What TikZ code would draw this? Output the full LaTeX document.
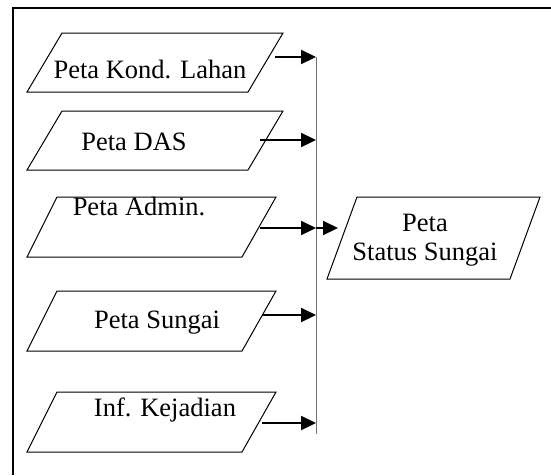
\documentclass[tikz,border=0pt]{standalone}
\usepackage{fontspec}
\setmainfont{Liberation Serif}
\usetikzlibrary{arrows.meta}

\begin{document}
\begin{tikzpicture}
[x=1pt,y=-1pt,
  boxDecorate/.style={draw,line width=1pt},%
  textDecorate/.style={anchor=base,inner sep=0pt,font=\fontsize{26.5}{29}\selectfont},%
  arrowDecorate/.style={line width=2.2pt,-{Triangle[length=15pt,width=14pt]}},%
  busDecorate/.style={draw=black!55,line width=1pt}]
\useasboundingbox (0,0) rectangle (551,475);
%% frame
\draw[line width=2pt] (13,475) -- (13,8) -- (551,8);
%% input maps
\foreach \nodename/\xa/\xb/\ya/\xc/\xd/\yb in {
  k1/62/283/33/27/248/92, k2/62/283/111/27/248/170,
  k3/57/276/197/27/242/257, k4/57/276/291/27/242/351,
  k5/57/276/392/27/242/452}
{
  \draw[boxDecorate] (\xa,\ya) -- (\xb,\ya) -- (\xd,\yb) -- (\xc,\yb) -- cycle;
}
\node (t1) at (150,78) [textDecorate] {Peta Kond. Lahan};
\node (t2) at (134,150) [textDecorate] {Peta DAS};
\node (t3) at (139,215) [textDecorate] {Peta Admin.};
\node (t4) at (157,328) [textDecorate] {Peta Sungai};
\node (t5) at (165,416) [textDecorate] {Inf. Kejadian};
%% output map
\draw[boxDecorate] (357,197) -- (540,197) -- (510,279) -- (327,279) -- cycle;
\node (st) at (425,240) [textDecorate,anchor=center,align=center] {Peta\\Status Sungai};
%% bus and arrows
\coordinate (top) at (316,57);
\coordinate (bot) at (316,434);
\draw[busDecorate] (top) -- (bot);
\foreach \name/\xs/\y in {a1/275/57, a2/260/140, a3/260/228, a4/262/315, a5/262/423}
{
  \coordinate (\name s) at (\xs,\y);
  \coordinate (\name e) at (316,\y);
  \draw[arrowDecorate] (\name s) -- (\name e);
}
\coordinate (in) at (338,228);
\draw[arrowDecorate] (a3e) -- (in);
\end{tikzpicture}
\end{document}
